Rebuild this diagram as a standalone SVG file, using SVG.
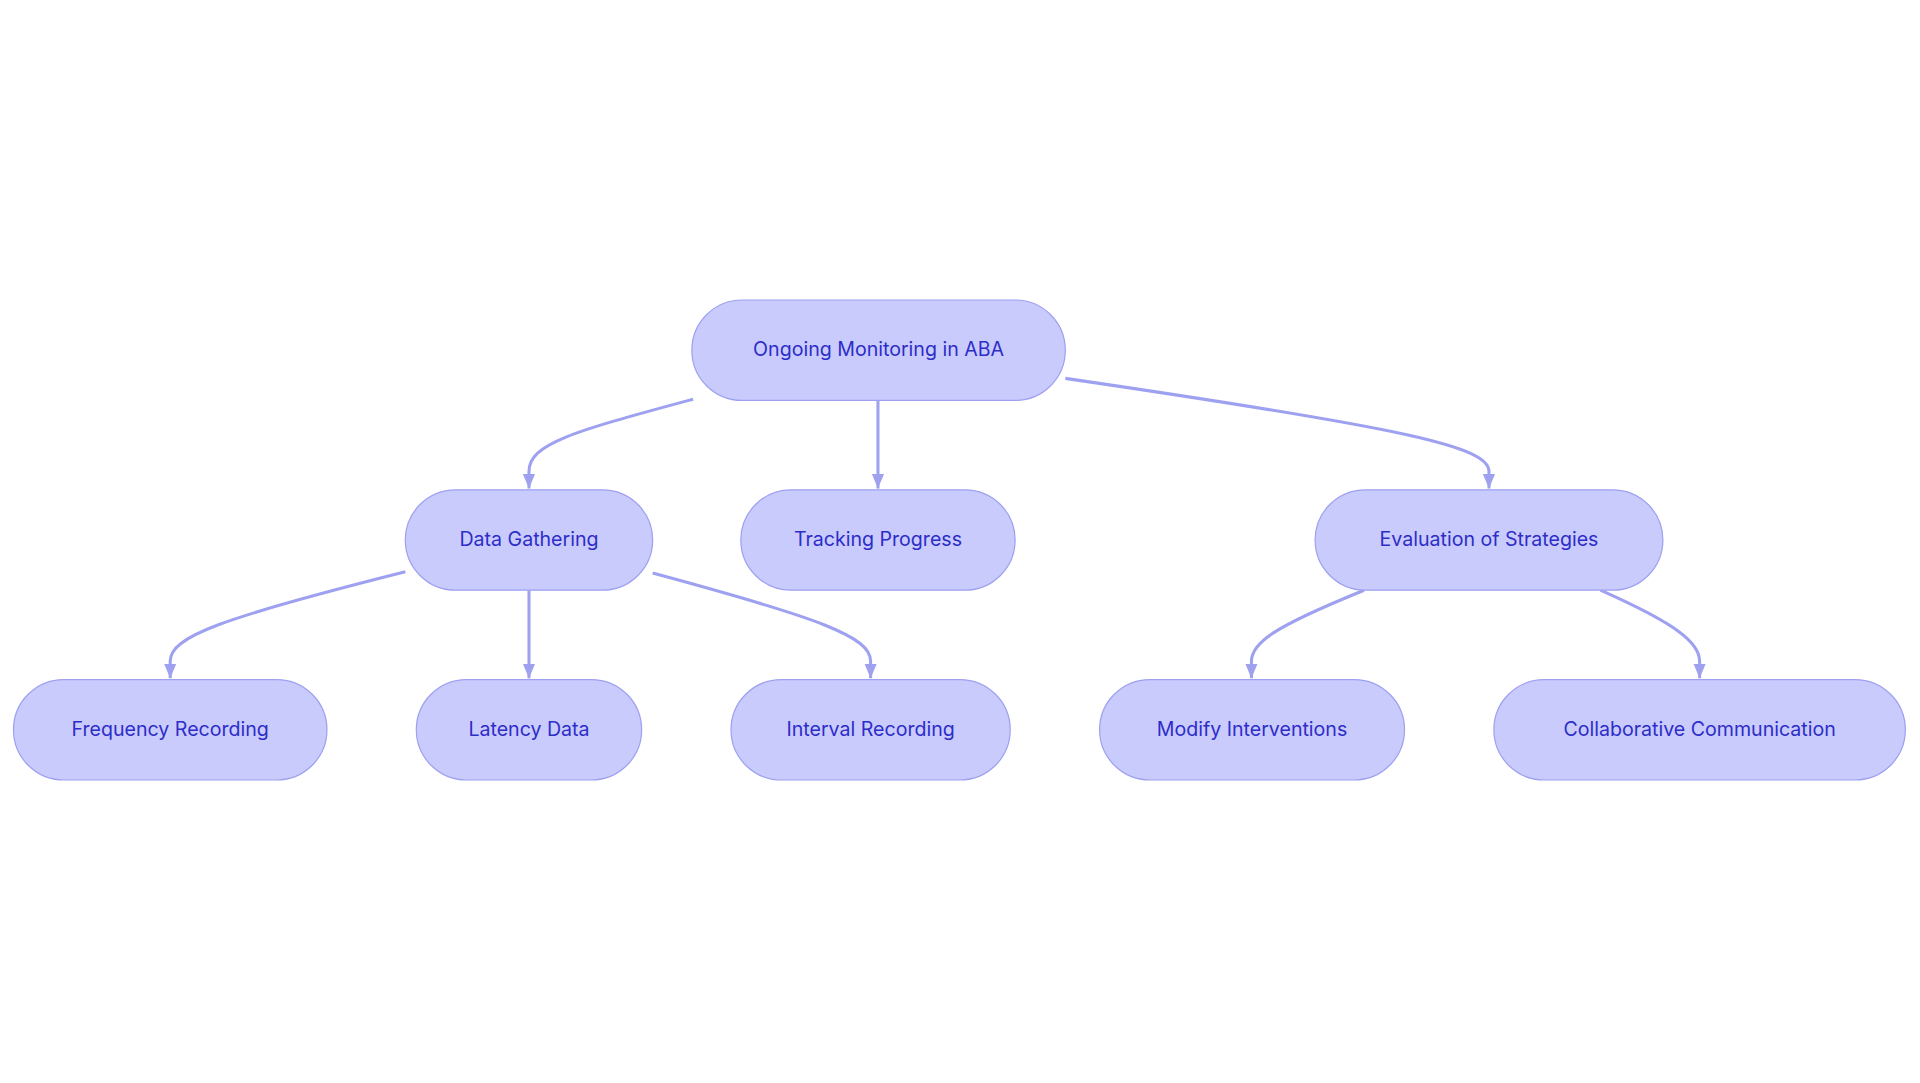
<svg xmlns="http://www.w3.org/2000/svg" width="1920" height="1083" viewBox="0 0 1920 1083">
<defs>
<style>
.n rect{fill:#c9cbfd;stroke:#9ea1f0;stroke-width:1}
.n text{font-family:Inter,"Liberation Sans",sans-serif;font-size:16px;fill:#2d2dc8;text-anchor:middle;dominant-baseline:central}
.e path{fill:none;stroke:#9ea1f0;stroke-width:2.5}
</style>
<marker id="a" viewBox="0 0 10 10" refX="9" refY="5" markerWidth="6" markerHeight="6" markerUnits="userSpaceOnUse" orient="auto"><path d="M0,0L10,5L0,10z" fill="#9ea1f0"/></marker>
<marker id="ah" viewBox="0 0 12 12" refX="12" refY="6" markerWidth="12" markerHeight="12" markerUnits="userSpaceOnUse" orient="auto"><path d="M0,1L12,6L0,11z" fill="#9ea1f0"/></marker>
</defs>
<rect width="1920" height="1083" fill="#fff"/>
<g transform="scale(1.2245)">
<g class="e" id="connectors">
<path marker-end="url(#ah)" d="M566,326 C470,352 432,362 432,385 L432,399"/>
<path marker-end="url(#ah)" d="M717,327 L717,399"/>
<path marker-end="url(#ah)" d="M870,309 C1150,350 1216,365 1216,385 L1216,399"/>
<path marker-end="url(#ah)" d="M331,467 C180,505 139,520 139,540 L139,554"/>
<path marker-end="url(#ah)" d="M432,482 L432,554"/>
<path marker-end="url(#ah)" d="M533,468 C670,505 711,520 711,540 L711,554"/>
<path marker-end="url(#ah)" d="M1114,482 C1040,512 1022,525 1022,540 L1022,554"/>
<path marker-end="url(#ah)" d="M1307,482 C1370,510 1388,525 1388,540 L1388,554"/>
</g>
<g class="n" id="root"><rect x="565" y="245" width="305" height="82" rx="41"/><text x="717.5" y="285">Ongoing Monitoring in ABA</text></g>
<g class="n" id="dg"><rect x="331" y="400" width="202" height="82" rx="41"/><text x="432" y="440">Data Gathering</text></g>
<g class="n" id="tp"><rect x="605" y="400" width="224" height="82" rx="41"/><text x="717" y="440">Tracking Progress</text></g>
<g class="n" id="es"><rect x="1074" y="400" width="284" height="82" rx="41"/><text x="1216" y="440">Evaluation of Strategies</text></g>
<g class="n" id="fr"><rect x="11" y="555" width="256" height="82" rx="41"/><text x="139" y="595">Frequency Recording</text></g>
<g class="n" id="ld"><rect x="340" y="555" width="184" height="82" rx="41"/><text x="432" y="595">Latency Data</text></g>
<g class="n" id="ir"><rect x="597" y="555" width="228" height="82" rx="41"/><text x="711" y="595">Interval Recording</text></g>
<g class="n" id="mi"><rect x="898" y="555" width="249" height="82" rx="41"/><text x="1022.5" y="595">Modify Interventions</text></g>
<g class="n" id="cc"><rect x="1220" y="555" width="336" height="82" rx="41"/><text x="1388" y="595">Collaborative Communication</text></g>
</g>
</svg>
